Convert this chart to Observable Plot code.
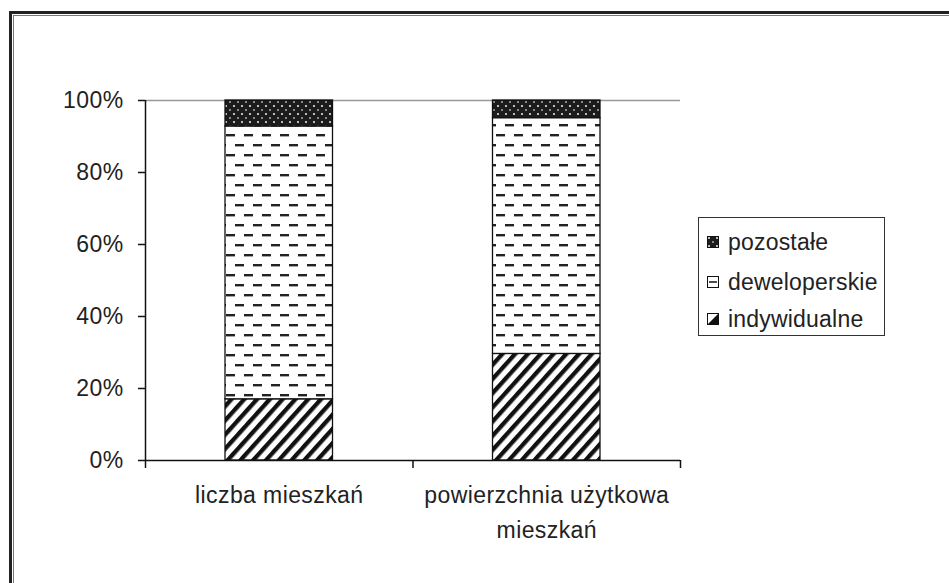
<!DOCTYPE html>
<html>
<head>
<meta charset="utf-8">
<script src="https://cdn.jsdelivr.net/npm/d3@7"></script>
<script src="https://cdn.jsdelivr.net/npm/@observablehq/plot@0.6"></script>
<style>
  html, body { margin: 0; padding: 0; background: #fff; }
  #wrap { position: relative; width: 949px; height: 583px; overflow: hidden; font-family: "Liberation Sans", Arial, sans-serif; }
  .frame1 { position: absolute; left: 9px; top: 11px; width: 2000px; height: 2000px; border-left: 3px solid #222; border-top: 3px solid #222; }
  .frame2 { position: absolute; left: 13px; top: 15px; width: 2000px; height: 2000px; border-left: 1px solid #777; border-top: 1px solid #777; }
  #legend { position: absolute; left: 698px; top: 217px; width: 187px; height: 119px; border: 1px solid #333; box-sizing: border-box; background: #fff; }
  .item { position: absolute; left: 8px; height: 24px; display: flex; align-items: center; font-size: 23px; letter-spacing: 0.2px; color: #222; white-space: nowrap; }
  .item svg { margin-right: 9px; }
  #chart text { letter-spacing: 0.4px; }
</style>
</head>
<body>
<div id="wrap">
  <div class="frame1"></div>
  <div class="frame2"></div>
  <div id="chart"></div>
  <div id="legend"></div>
</div>
<script>
const categories = ["liczba mieszkań", "powierzchnia użytkowa\nmieszkań"];
const series = ["indywidualne", "deweloperskie", "pozostałe"];
const indywidualne = [17, 29.6];
const deweloperskie = [75.8, 65.5];
const pozostale = [7.2, 4.9];
const yTicks = [0, 20, 40, 60, 80, 100];
const legendOrder = ["pozostałe", "deweloperskie", "indywidualne"];

const values = {"indywidualne": indywidualne, "deweloperskie": deweloperskie, "pozostałe": pozostale};
const patternIds = {"indywidualne": "pat-ind", "deweloperskie": "pat-dev", "pozostałe": "pat-poz"};

const table = [];
categories.forEach((c, i) => {
  let acc = 0;
  series.forEach(s => {
    const v = values[s][i];
    table.push({category: c, x1: i, x2: i + 1, y1: acc, y2: acc + v, series: s});
    acc += v;
  });
});

const chart = Plot.plot({
  width: 949,
  height: 583,
  marginLeft: 145,
  marginRight: 269,
  marginTop: 100,
  marginBottom: 123,
  style: {fontFamily: "Liberation Sans, Arial, sans-serif", fontSize: "23px", color: "#222", background: "transparent"},
  x: {domain: [0, categories.length], axis: null},
  y: {domain: [0, 100], axis: null},
  color: {type: "ordinal", domain: series, range: series.map(s => `url(#${patternIds[s]})`)},
  marks: [
    Plot.ruleY([100], {stroke: "#999", strokeWidth: 1.5}),
    Plot.rectY(table, {x1: "x1", x2: "x2", y1: "y1", y2: "y2", fill: "series", stroke: "#111", strokeWidth: 1.3, insetLeft: 80, insetRight: 80}),
    Plot.axisY({ticks: yTicks, tickSize: 7, tickPadding: 15, tickFormat: d => d + "%", fontSize: 23, stroke: "#111", strokeWidth: 1.5}),
    Plot.axisX({ticks: d3.range(categories.length + 1), tickSize: 8, tickFormat: () => "", stroke: "#111", strokeWidth: 1.5}),
    Plot.axisX({ticks: categories.map((c, i) => i + 0.5), tickSize: 0, tickPadding: 17, tickFormat: d => categories[Math.floor(d)], fontSize: 23, lineHeight: 1.55}),
    Plot.ruleX([0], {y1: 0, y2: 100, stroke: "#111", strokeWidth: 1.5}),
    Plot.ruleY([0], {stroke: "#111", strokeWidth: 1.5})
  ]
});

const defsHtml = `
<pattern id="pat-ind" patternUnits="userSpaceOnUse" width="9.5" height="9.5" patternTransform="rotate(42)">
  <rect width="9.5" height="9.5" fill="#fff"/>
  <rect x="0" y="0" width="4.3" height="9.5" fill="#111"/>
</pattern>
<pattern id="pat-dev" patternUnits="userSpaceOnUse" width="18" height="20">
  <rect width="18" height="20" fill="#fff"/>
  <rect x="1" y="4" width="9" height="2.4" fill="#222"/>
  <rect x="10" y="14" width="9" height="2.4" fill="#222"/>
  <rect x="-8" y="14" width="9" height="2.4" fill="#222"/>
</pattern>
<pattern id="pat-poz" patternUnits="userSpaceOnUse" width="8" height="8">
  <rect width="8" height="8" fill="#1c1c1c"/>
  <rect x="1" y="1" width="2" height="2" fill="#bbb"/>
  <rect x="5" y="5" width="2" height="2" fill="#888"/>
</pattern>`;
const defs = d3.select(chart).insert("defs", ":first-child");
defs.html(defsHtml);

document.getElementById("chart").appendChild(chart);

// legend
const legend = d3.select("#legend");
const tops = [12, 52, 89];
legendOrder.forEach((s, k) => {
  const item = legend.append("div").attr("class", "item").style("top", tops[k] + "px");
  const sw = item.append("svg").attr("width", 12).attr("height", 12);
  if (s === "pozostałe") {
    sw.append("rect").attr("x", 0.5).attr("y", 0.5).attr("width", 11).attr("height", 11).attr("fill", "url(#pat-poz)").attr("stroke", "#111");
  } else if (s === "deweloperskie") {
    sw.append("rect").attr("x", 0.5).attr("y", 0.5).attr("width", 11).attr("height", 11).attr("fill", "#fff").attr("stroke", "#111");
    sw.append("line").attr("x1", 2).attr("x2", 10).attr("y1", 6).attr("y2", 6).attr("stroke", "#111").attr("stroke-width", 1.5);
  } else {
    sw.append("rect").attr("x", 0.5).attr("y", 0.5).attr("width", 11).attr("height", 11).attr("fill", "#fff").attr("stroke", "#111");
    sw.append("path").attr("d", "M11.5,0.5 L11.5,11.5 L0.5,11.5 Z").attr("fill", "#111");
  }
  item.append("span").text(s);
});
</script>
</body>
</html>
